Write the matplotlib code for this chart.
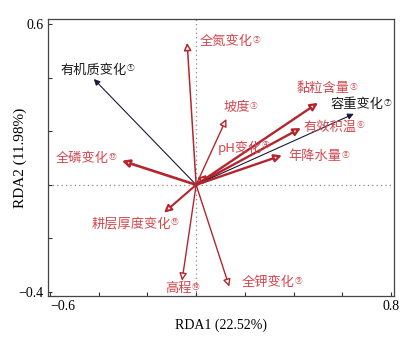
import matplotlib
matplotlib.use('Agg')
import matplotlib.pyplot as plt
import numpy as np

# RDA biplot data (arrow tips)
names = ['有机质变化', '全氮变化', '坡度', 'pH变化', '黏粒含量', '有效积温',
         '容重变化', '年降水量', '全钾变化', '高程', '耕层厚度变化', '全磷变化']
marks = ['①', '②', '③', '④', '⑤', '⑥', '⑦', '⑧', '⑨', '⑩', '⑪', '⑫']
rda1 = [-0.42, -0.037, 0.124, 0.045, 0.50, 0.43, 0.647, 0.352, 0.136, -0.058, -0.132, -0.305]
rda2 = [0.395, 0.53, 0.246, 0.037, 0.306, 0.212, 0.265, 0.110, -0.38, -0.358, -0.104, 0.09]
is_response = [True, False, False, False, False, False, True, False, False, False, False, False]
axis_pct = [22.52, 11.98]

# layout: label anchor (left, middle) in data coords, arrow line widths
label_pos = [(-0.557, 0.429), (0.016, 0.534), (0.111, 0.287), (0.087, 0.138),
             (0.412, 0.358), (0.441, 0.216), (0.553, 0.299), (0.379, 0.104),
             (0.186, -0.366), (-0.128, -0.388), (-0.429, -0.146), (-0.577, 0.097)]
widths = [0.8, 1.1, 1.0, 1.4, 1.7, 1.7, 0.8, 1.7, 1.0, 1.0, 1.5, 1.9]

red_line = '#b3262e'
red_text = '#d4474f'
cjk = ['Noto Sans CJK SC', 'DejaVu Sans']

fig = plt.figure(figsize=(4.15, 3.39), dpi=100)
ax = fig.add_axes([48/415, 1 - 296/339, 346/415, 277/339])
ax.set_xlim(-0.608, 0.812)
ax.set_ylim(-0.415, 0.619)

ax.axvline(0, color='#888888', ls=(0, (1, 2.5)), lw=0.9, zorder=1)
ax.axhline(0, color='#888888', ls=(0, (1, 2.5)), lw=0.9, zorder=1)

for i in range(len(names)):
    if is_response[i]:
        props = dict(arrowstyle='-|>', color='#1a1a3a', lw=widths[i],
                     mutation_scale=9, shrinkA=0, shrinkB=0)
        tcol = '#1a1a1a'
    else:
        props = dict(arrowstyle='-|>', ec=red_line, fc='white', lw=widths[i],
                     mutation_scale=11, shrinkA=0, shrinkB=0)
        tcol = red_text
    ax.annotate('', xy=(rda1[i], rda2[i]), xytext=(0, 0), arrowprops=props, zorder=3)
    t = ax.text(label_pos[i][0], label_pos[i][1], names[i], family=cjk, fontsize=9.5,
                color=tcol, ha='left', va='center', zorder=4)
    ax.annotate(marks[i], xy=(1, 0.95), xycoords=t, family=cjk, fontsize=5.5,
                color=tcol, ha='left', va='top', zorder=4)

ax.set_xticks([-0.6, -0.4, -0.2, 0, 0.2, 0.4, 0.6, 0.8])
ax.set_xticklabels(['\u22120.6', '', '', '', '', '', '', '0.8'])
ax.set_yticks([-0.4, -0.2, 0, 0.2, 0.4, 0.6])
ax.set_yticklabels(['\u22120.4', '', '', '', '', '0.6'])
ax.tick_params(direction='in', length=3, width=0.8, colors='#333333',
               labelsize=10, pad=3)
for lab in ax.get_xticklabels() + ax.get_yticklabels():
    lab.set_family('Liberation Serif')
    lab.set_color('black')
ax.get_xticklabels()[0].set_ha('left')
for s in ax.spines.values():
    s.set_color('#444444')
    s.set_linewidth(0.9)

ax.set_xlabel('RDA1 (%.2f%%)' % axis_pct[0], family='Liberation Serif', fontsize=10, labelpad=4)
ax.set_ylabel('RDA2 (%.2f%%)' % axis_pct[1], family='Liberation Serif', fontsize=11)
ax.yaxis.set_label_coords(-0.06, 0.5)

fig.savefig('out.png', dpi=100)
